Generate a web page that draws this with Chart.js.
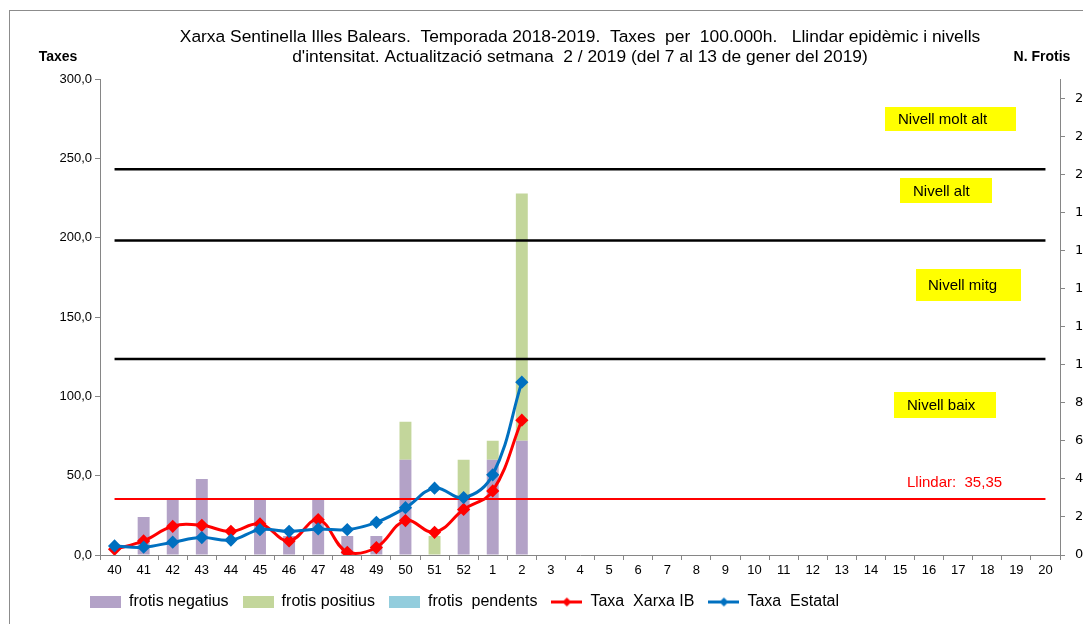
<!DOCTYPE html>
<html>
<head>
<meta charset="utf-8">
<script src="https://cdn.jsdelivr.net/npm/chart.js@4.4.0/dist/chart.umd.min.js"></script>
<style>
    html, body { margin: 0; padding: 0; background: #fff; }
    #wrap { width: 1083px; height: 624px; }
</style>
</head>
<body>
<div id="wrap"><canvas id="grafic" width="1083" height="624"></canvas></div>
<script>
// setmanes de la temporada
const setmanes = ['40', '41', '42', '43', '44', '45', '46', '47', '48', '49', '50', '51', '52',
    '1', '2', '3', '4', '5', '6', '7', '8', '9', '10', '11', '12', '13', '14', '15', '16', '17', '18', '19', '20'];

// nombre de frotis (eix dret)
const frotisNegatius = [0, 2, 3, 4, 0, 3, 1, 3, 1, 1, 5, 0, 3, 5, 6];
const frotisPositius = [0, 0, 0, 0, 0, 0, 0, 0, 0, 0, 2, 1, 2, 1, 13];
const frotisPendents = [0, 0, 0, 0, 0, 0, 0, 0, 0, 0, 0, 0, 0, 0, 0];

// taxes per 100.000h (eix esquerre)
const taxaXarxaIB = [3.6, 8.9, 18.1, 18.7, 14.9, 19.6, 8.9, 22.3, 1.7, 4.7, 21.7, 14.3, 28.7, 40.4, 85.0];
const taxaEstatal = [5.7, 4.9, 8.1, 11.0, 9.4, 16.0, 14.9, 16.4, 16.0, 20.6, 29.8, 42.1, 36.2, 50.6, 109.0];

// llindar i nivells d'intensitat
const llindar = 35.35;
const limitBaix = 123.6;
const limitMitg = 198.4;
const limitAlt = 243.2;

const titol = [
    'Xarxa Sentinella Illes Balears.  Temporada 2018-2019.  Taxes  per  100.000h.   Llindar epidèmic i nivells',
    "d'intensitat. Actualització setmana  2 / 2019 (del 7 al 13 de gener del 2019)",
];

const NARROW = '"Liberation Sans Narrow", "Arial Narrow", "Liberation Sans", sans-serif';
const SANS = '"Liberation Sans", Arial, sans-serif';
const AXIS_GREY = '#868686';

function boxIcon(color) {
    const c = document.createElement('canvas');
    c.width = 31;
    c.height = 12;
    const g = c.getContext('2d');
    g.fillStyle = color;
    g.fillRect(0, 0, 31, 12);
    return c;
}

function lineIcon(color) {
    const c = document.createElement('canvas');
    c.width = 31;
    c.height = 11;
    const g = c.getContext('2d');
    g.strokeStyle = color;
    g.lineWidth = 3;
    g.beginPath();
    g.moveTo(0, 5.5);
    g.lineTo(31, 5.5);
    g.stroke();
    g.fillStyle = color;
    g.beginPath();
    g.moveTo(15.5, 1);
    g.lineTo(20, 5.5);
    g.lineTo(15.5, 10);
    g.lineTo(11, 5.5);
    g.closePath();
    g.fill();
    return c;
}

function levelLine(value, color, width) {
    return {
        type: 'line',
        data: [{ x: setmanes[0], y: value }, { x: setmanes[setmanes.length - 1], y: value }],
        borderColor: color,
        borderWidth: width,
        pointRadius: 0,
        yAxisID: 'y',
        order: 5,
    };
}

const legendIcons = {
    0: boxIcon('#B3A2C7'),
    1: boxIcon('#C3D69B'),
    2: boxIcon('#93CDDD'),
    3: lineIcon('#FF0000'),
    4: lineIcon('#0070C0'),
};

// quadre de text groc
function yellowLabel(ctx, text, x, y, w, h, tx) {
    ctx.fillStyle = '#FFFF00';
    ctx.fillRect(x, y, w, h);
    ctx.fillStyle = '#000';
    ctx.font = `15px ${SANS}`;
    ctx.textAlign = 'left';
    ctx.textBaseline = 'middle';
    ctx.fillText(text, tx, y + h / 2 + 1);
}

const decoracio = {
    id: 'decoracio',
    beforeDraw(chart) {
        const ctx = chart.ctx;
        ctx.save();
        ctx.fillStyle = '#fff';
        ctx.fillRect(0, 0, chart.width, chart.height);
        ctx.strokeStyle = '#8c8c8c';
        ctx.lineWidth = 1;
        ctx.strokeRect(9.5, 10.5, chart.width + 20, chart.height + 20);
        ctx.restore();
    },
    afterLayout(chart) {
        // la llegenda d'Excel no està centrada
        chart.legend.left = 76;
    },
    afterDraw(chart) {
        const ctx = chart.ctx;
        ctx.save();
        ctx.fillStyle = '#000';
        ctx.font = `bold 14px ${NARROW}`;
        ctx.textBaseline = 'middle';
        ctx.textAlign = 'center';
        ctx.fillText('Taxes', 58, 57);
        ctx.fillText('N. Frotis', 1042, 57);

        yellowLabel(ctx, 'Nivell molt alt', 885, 107, 131, 24, 898);
        yellowLabel(ctx, 'Nivell alt', 900, 178, 92, 25, 913);
        yellowLabel(ctx, 'Nivell mitg', 916, 269, 105, 32, 928);
        yellowLabel(ctx, 'Nivell baix', 894, 392, 102, 26, 907);

        ctx.fillStyle = '#FF0000';
        ctx.font = `15px ${SANS}`;
        ctx.textAlign = 'left';
        ctx.fillText('Llindar:  35,35', 907, 483);
        ctx.restore();
    },
};

const ctx = document.getElementById('grafic').getContext('2d');
new Chart(ctx, {
    type: 'bar',
    data: {
        labels: setmanes,
        datasets: [
            {
                label: 'frotis negatius',
                data: frotisNegatius,
                backgroundColor: '#B3A2C7',
                yAxisID: 'y1',
                stack: 'frotis',
                order: 10,
            },
            {
                label: 'frotis positius',
                data: frotisPositius,
                backgroundColor: '#C3D69B',
                yAxisID: 'y1',
                stack: 'frotis',
                order: 10,
            },
            {
                label: 'frotis  pendents',
                data: frotisPendents,
                backgroundColor: '#93CDDD',
                yAxisID: 'y1',
                stack: 'frotis',
                order: 10,
            },
            {
                type: 'line',
                label: 'Taxa  Xarxa IB',
                data: taxaXarxaIB,
                borderColor: '#FF0000',
                backgroundColor: '#FF0000',
                borderWidth: 3,
                tension: 0.4,
                pointStyle: 'rectRot',
                pointRadius: 4.5,
                yAxisID: 'y',
                order: 1,
            },
            {
                type: 'line',
                label: 'Taxa  Estatal',
                data: taxaEstatal,
                borderColor: '#0070C0',
                backgroundColor: '#0070C0',
                borderWidth: 3,
                tension: 0.4,
                pointStyle: 'rectRot',
                pointRadius: 4.5,
                yAxisID: 'y',
                order: 0,
            },
            Object.assign(levelLine(llindar, '#FF0000', 2), { label: 'llindar' }),
            Object.assign(levelLine(limitBaix, '#000', 2.5), { label: 'baix' }),
            Object.assign(levelLine(limitMitg, '#000', 2.5), { label: 'mitg' }),
            Object.assign(levelLine(limitAlt, '#000', 2.5), { label: 'alt' }),
        ],
    },
    options: {
        responsive: false,
        animation: false,
        devicePixelRatio: 1,
        layout: { padding: { left: 0, right: 0, top: 0, bottom: 4 } },
        datasets: {
            bar: { barPercentage: 0.41, categoryPercentage: 1 },
        },
        plugins: {
            tooltip: { enabled: false },
            title: {
                display: true,
                fullSize: false,
                text: titol,
                color: '#000',
                font: { family: NARROW, size: 17.4, weight: 'normal', lineHeight: 1.1 },
                padding: { top: 28, bottom: 13 },
            },
            legend: {
                position: 'bottom',
                align: 'start',
                labels: {
                    usePointStyle: true,
                    pointStyleWidth: 31,
                    boxHeight: 12,
                    padding: 14,
                    color: '#000',
                    font: { family: SANS, size: 16 },
                    generateLabels(chart) {
                        const items = Chart.defaults.plugins.legend.labels.generateLabels(chart);
                        return items
                            .filter((it) => legendIcons[it.datasetIndex])
                            .sort((a, b) => a.datasetIndex - b.datasetIndex)
                            .map((it) => Object.assign(it, { pointStyle: legendIcons[it.datasetIndex] }));
                    },
                },
            },
        },
        scales: {
            x: {
                offset: true,
                grid: {
                    offset: true,
                    drawOnChartArea: false,
                    tickLength: 5,
                    color: AXIS_GREY,
                },
                border: { color: AXIS_GREY },
                ticks: {
                    color: '#000',
                    font: { family: SANS, size: 13 },
                    padding: 3,
                    maxRotation: 0,
                    autoSkip: false,
                },
                afterFit(scale) {
                    scale.height = 25;
                },
            },
            y: {
                position: 'left',
                min: 0,
                max: 300,
                grid: { drawOnChartArea: false, tickLength: 5, color: AXIS_GREY },
                border: { color: AXIS_GREY },
                ticks: {
                    stepSize: 50,
                    color: '#000',
                    padding: 3,
                    font: { family: SANS, size: 13 },
                    callback: (v) => v.toFixed(1).replace('.', ','),
                },
                afterFit(scale) {
                    scale.width = 100;
                },
            },
            y1: {
                position: 'right',
                min: 0,
                max: 25,
                grid: { drawOnChartArea: false, tickLength: 5, color: AXIS_GREY },
                border: { color: AXIS_GREY },
                ticks: {
                    stepSize: 2,
                    color: '#000',
                    padding: 10,
                    font: { family: '"DejaVu Sans", Verdana, sans-serif', size: 13 },
                },
                afterBuildTicks(scale) {
                    scale.ticks = scale.ticks.filter((t) => t.value <= 24);
                },
                afterFit(scale) {
                    scale.width = 23;
                },
            },
        },
    },
    plugins: [decoracio],
});
</script>
</body>
</html>
